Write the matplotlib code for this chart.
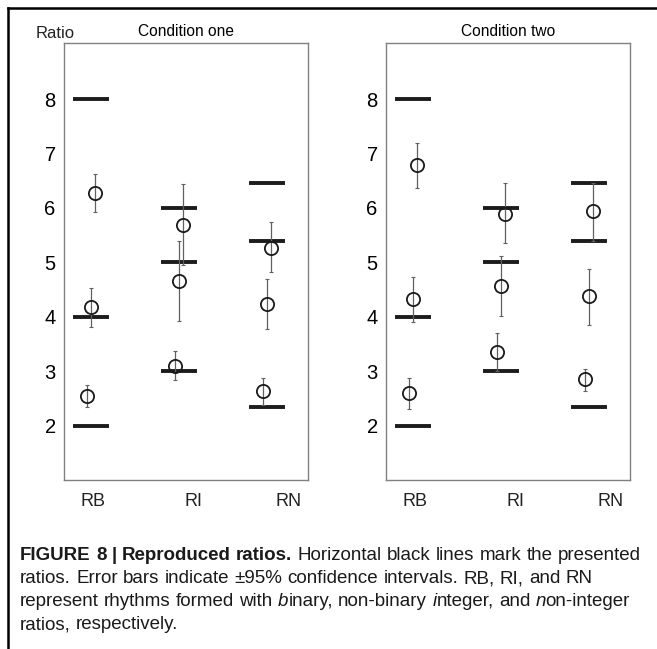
import matplotlib
matplotlib.use("Agg")
import matplotlib.pyplot as plt
from matplotlib import font_manager
from matplotlib.lines import Line2D

# ---------------- data ----------------
categories = ["RB", "RI", "RN"]
conditions = ["Condition one", "Condition two"]
y_ticks = [2, 3, 4, 5, 6, 7, 8]

# presented ratios (horizontal black lines), per category
presented_RB = [2, 4, 8]
presented_RI = [3, 5, 6]
presented_RN = [2.34, 5.39, 6.46]

# reproduced ratios: items ordered RB(low, mid, high), RI(...), RN(...)
item_category = ["RB", "RB", "RB", "RI", "RI", "RI", "RN", "RN", "RN"]
cond1_mean = [2.55, 4.18, 6.28, 3.10, 4.66, 5.68, 2.64, 4.23, 5.27]
cond1_lower = [2.34, 3.82, 5.93, 2.83, 3.92, 4.95, 2.38, 3.77, 4.82]
cond1_upper = [2.75, 4.53, 6.62, 3.37, 5.40, 6.43, 2.88, 4.70, 5.74]
cond2_mean = [2.60, 4.32, 6.78, 3.35, 4.57, 5.88, 2.85, 4.38, 5.94]
cond2_lower = [2.30, 3.90, 6.37, 3.00, 4.02, 5.36, 2.63, 3.85, 5.39]
cond2_upper = [2.87, 4.73, 7.19, 3.70, 5.11, 6.45, 3.04, 4.88, 6.46]

# caption runs: (text, weight, style, glued_to_previous)
caption_lines = [
    [("FIGURE 8 | Reproduced ratios.", "bold", "normal", False),
     ("Horizontal black lines mark the presented", "normal", "normal", False)],
    [("ratios. Error bars indicate \u00b195% confidence intervals. RB, RI, and RN", "normal", "normal", False)],
    [("represent rhythms formed with", "normal", "normal", False),
     ("b", "normal", "italic", False), ("inary, non-binary", "normal", "normal", True),
     ("i", "normal", "italic", False), ("nteger, and", "normal", "normal", True),
     ("n", "normal", "italic", False), ("on-integer", "normal", "normal", True)],
    [("ratios, respectively.", "normal", "normal", False)],
]

# ---------------- style ----------------
W, H = 657, 649
DPI = 100
plt.rcParams["font.family"] = ["Liberation Sans", "DejaVu Sans"]

names = {f.name for f in font_manager.fontManager.ttflist}
cap_family = "Liberation Sans Narrow" if "Liberation Sans Narrow" in names else "Liberation Sans"

fig = plt.figure(figsize=(W / DPI, H / DPI), dpi=DPI)

cat_pos = {c: i + 1 for i, c in enumerate(categories)}
label_pos = [1.02, 2.16, 3.24]
offsets = [-0.05, 0.0, 0.05]
presented = {"RB": presented_RB, "RI": presented_RI, "RN": presented_RN}
means = [cond1_mean, cond2_mean]
lowers = [cond1_lower, cond2_lower]
uppers = [cond1_upper, cond2_upper]

ax_left_px = [64, 386]
for k in range(2):
    ax = fig.add_axes([ax_left_px[k] / W, (H - 480) / H, 244 / W, 437 / H])
    for c in categories:
        xc = cat_pos[c]
        ax.hlines(presented[c], xc - 0.205, xc + 0.205, color="#1c1c1c", lw=2.8, zorder=2)
    xs = []
    counter = {}
    for c in item_category:
        j = counter.get(c, 0)
        counter[c] = j + 1
        xs.append(cat_pos[c] + offsets[j])
    m = means[k]
    yerr = [[mi - lo for mi, lo in zip(m, lowers[k])],
            [hi - mi for mi, hi in zip(m, uppers[k])]]
    ax.errorbar(xs, m, yerr=yerr, fmt="none", ecolor="#606060", elinewidth=0.9,
                capsize=1.3, capthick=0.8, zorder=3)
    ax.plot(xs, m, linestyle="none", marker="o", ms=9.5, mfc="none",
            mec="#1a1a1a", mew=1.3, zorder=4)
    ax.set_xlim(0.693, 3.466)
    ax.set_ylim(1.0, 9.03)
    ax.set_yticks(y_ticks)
    ax.set_yticklabels([str(v) for v in y_ticks], fontsize=14.5)
    ax.set_xticks(label_pos)
    ax.set_xticklabels(categories, fontsize=13, color="#222222")
    ax.tick_params(axis="both", length=0)
    ax.tick_params(axis="y", pad=6)
    ax.tick_params(axis="x", pad=9)
    for s in ax.spines.values():
        s.set_color("#808080")
        s.set_linewidth(1.0)
    ax.set_title(conditions[k], fontsize=11.2, pad=5)

fig.text(36 / W, 1 - 33 / H, "Ratio", fontsize=12, va="center", ha="left", color="#222222")

# figure frame (top and left rules)
fig.add_artist(Line2D([8 / W, 1.0], [1 - 8 / H, 1 - 8 / H], color="black", lw=1.8,
                      transform=fig.transFigure))
fig.add_artist(Line2D([8 / W, 8 / W], [0, 1 - 8 / H], color="black", lw=1.8,
                      transform=fig.transFigure))

# ---------------- caption with mixed styles ----------------
fig.canvas.draw()
renderer = fig.canvas.get_renderer()
cap_size = 13.5


def text_width(s, weight, style):
    t = fig.text(0, 0, s, fontsize=cap_size, family=cap_family, weight=weight, style=style)
    w = t.get_window_extent(renderer).width
    t.remove()
    return w


space_w = text_width("a a", "normal", "normal") - text_width("aa", "normal", "normal")

baselines = [560, 583, 606, 629]
x0 = 20.0
for line, yb in zip(caption_lines, baselines):
    x = x0
    first = True
    for s, weight, style, glued in line:
        for wi, word in enumerate(s.split(" ")):
            if not first and not (glued and wi == 0):
                x += space_w
            fig.text(x / W, 1 - yb / H, word, fontsize=cap_size, family=cap_family,
                     weight=weight, style=style, va="baseline", ha="left", color="#1a1a1a")
            x += text_width(word, weight, style)
            first = False

fig.savefig("out.png", dpi=DPI)
